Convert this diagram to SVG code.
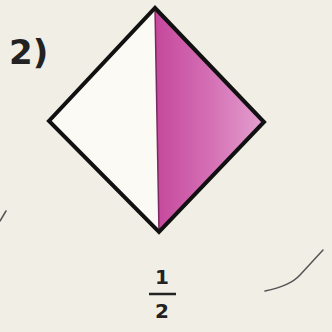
<svg xmlns="http://www.w3.org/2000/svg" width="332" height="332" viewBox="0 0 332 332">
<style>
.t{font-family:"DejaVu Sans","Liberation Sans",sans-serif;fill:#222}
.o{fill:none;stroke:#111;stroke-width:4;stroke-linejoin:miter}
</style>
<defs>
<linearGradient id="pk" x1="0" y1="0" x2="1" y2="0">
<stop offset="0" stop-color="#c5479c"/>
<stop offset="0.5" stop-color="#d46fb4"/>
<stop offset="1" stop-color="#e4a0cf"/>
</linearGradient>
</defs>
<rect width="332" height="332" fill="#f1eee6"/>
<g id="diamond">
<polygon points="155,8 49,121 159,232" fill="#fbfaf5"/>
<polygon points="155,8 264,122 159,232" fill="url(#pk)"/>
<line x1="155" y1="8" x2="159" y2="232" stroke="#7a2a5e" stroke-width="1.5"/>
<polygon class="o" points="155,8 264,122 159,232 49,121"/>
</g>
<g id="label">
<text class="t" x="9" y="64" font-size="34" font-weight="bold">2)</text>
</g>
<g id="fraction">
<text class="t" x="162" y="284" font-size="20" font-weight="bold" text-anchor="middle">1</text>
<line x1="149" y1="294" x2="176" y2="294" stroke="#222" stroke-width="2.5"/>
<text class="t" x="162" y="318" font-size="20" font-weight="bold" text-anchor="middle">2</text>
</g>
<g id="marks" stroke="#555" stroke-width="1.5" fill="none" stroke-linecap="round">
<path d="M0,221 L6,211"/>
<path d="M265,291 Q290,286 300,275 L323,250"/>
</g>
</svg>
